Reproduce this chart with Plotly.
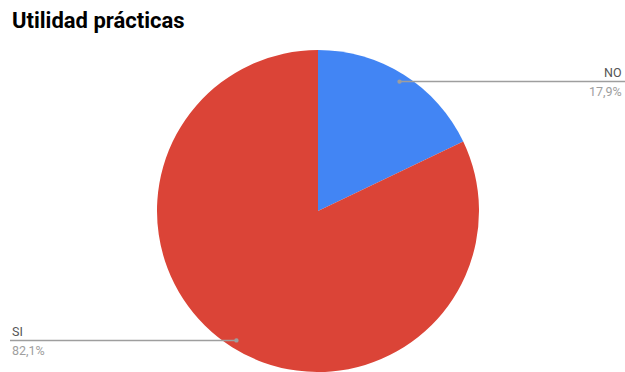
import math
import plotly.graph_objects as go

# Survey answers
labels = ["NO", "SI"]
values = [17.9, 82.1]
colors = ["#4285F4", "#DB4437"]
title_text = "Utilidad prácticas"

W, H = 625, 372
# pie placement in pixels (left, right, top of the disc)
pie_left, pie_right, pie_top = 156, 480, 50

dom_x = [pie_left / W, pie_right / W]
dom_y = [0.0, 1 - pie_top / H]

fig = go.Figure(
    go.Pie(
        labels=labels,
        values=values,
        marker=dict(colors=colors, line=dict(width=0)),
        sort=False,
        direction="clockwise",
        rotation=0,
        textinfo="none",
        hoverinfo="label+percent",
        showlegend=False,
        domain=dict(x=dom_x, y=dom_y),
    )
)

# disc geometry in pixels (y measured downwards from the top)
dw = (dom_x[1] - dom_x[0]) * W
dh = (dom_y[1] - dom_y[0]) * H
radius = min(dw, dh) / 2
cx = (dom_x[0] + dom_x[1]) / 2 * W
cy = H - (dom_y[0] + dom_y[1]) / 2 * H

total = sum(values)
shapes = []
annotations = []
start = 0.0
line_color = "#9e9e9e"


def xp(v):
    return v / W


def yp(v):
    return 1 - v / H


for lab, val in zip(labels, values):
    frac = val / total
    mid = (start + frac / 2) * 2 * math.pi
    start += frac
    px = cx + 0.95 * radius * math.sin(mid)
    py = cy - 0.95 * radius * math.cos(mid)
    right_side = math.sin(mid) > 0
    end_x = W if right_side else 10
    shapes.append(dict(type="line", xref="paper", yref="paper",
                       x0=xp(px), x1=xp(end_x), y0=yp(py), y1=yp(py),
                       line=dict(color=line_color, width=1.5)))
    shapes.append(dict(type="circle", xref="paper", yref="paper",
                       x0=xp(px - 2.2), x1=xp(px + 2.2),
                       y0=yp(py - 2.2), y1=yp(py + 2.2),
                       fillcolor=line_color, line=dict(width=0)))
    ax = xp(W - 1) if right_side else xp(10)
    anchor = "right" if right_side else "left"
    annotations.append(dict(x=ax, y=yp(py - 9), xref="paper", yref="paper",
                            text=lab, showarrow=False, xanchor=anchor,
                            yanchor="middle",
                            font=dict(family="Roboto", size=12.5, color="#555555")))
    pct = f"{frac * 100:.1f}".replace(".", ",") + "%"
    annotations.append(dict(x=ax, y=yp(py + 10), xref="paper", yref="paper",
                            text=pct, showarrow=False, xanchor=anchor,
                            yanchor="middle",
                            font=dict(family="Roboto", size=12.5, color="#9e9e9e")))

annotations.append(dict(x=10 / W, y=1 - 21 / H, xref="paper", yref="paper",
                        text=f"<b>{title_text}</b>", showarrow=False,
                        xanchor="left", yanchor="middle",
                        font=dict(family="Roboto", size=22, color="#000000")))

fig.update_layout(
    width=W, height=H,
    margin=dict(l=0, r=0, t=0, b=0),
    paper_bgcolor="white",
    plot_bgcolor="white",
    shapes=shapes,
    annotations=annotations,
)

fig.write_html("out.html", config={"displayModeBar": False})
